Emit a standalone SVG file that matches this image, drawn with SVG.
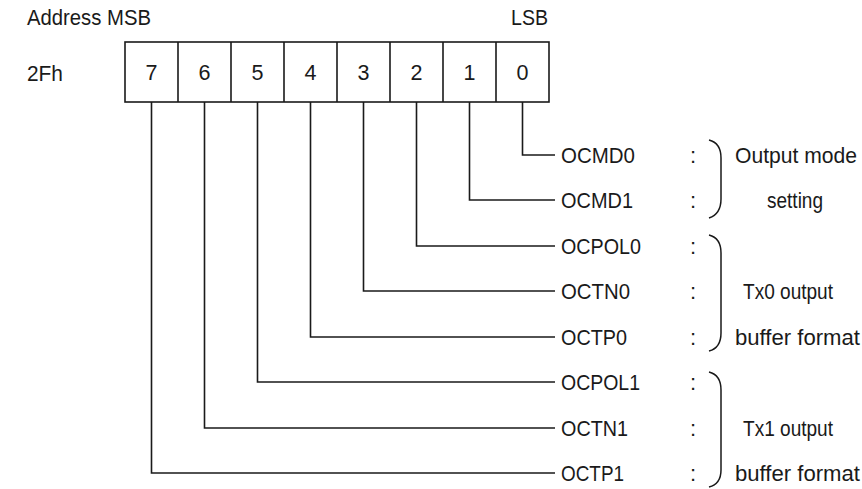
<svg xmlns="http://www.w3.org/2000/svg" width="862" height="489" viewBox="0 0 862 489">
<style>
text{font-family:"Liberation Sans",Arial,sans-serif;font-size:22px;fill:#1a1a1a}
.c{text-anchor:middle}
.d{font-size:23px}
.ln{fill:none;stroke:#1a1a1a;stroke-width:1.6}
.br{fill:none;stroke:#1a1a1a;stroke-width:1.5}
</style>
<rect width="862" height="489" fill="#fff"/>
<g id="header">
<text x="27" y="25" textLength="124" lengthAdjust="spacingAndGlyphs">Address MSB</text>
<text x="511" y="25" textLength="37" lengthAdjust="spacingAndGlyphs">LSB</text>
<text x="27" y="81" textLength="36" lengthAdjust="spacingAndGlyphs">2Fh</text>
</g>
<g id="register">
<rect class="ln" x="125" y="42" width="424" height="60"/>
<path class="ln" d="M178,42V102M231,42V102M284,42V102M337,42V102M390,42V102M443,42V102M496,42V102"/>
<g class="c d">
<text x="151.5" y="80" textLength="12" lengthAdjust="spacingAndGlyphs">7</text>
<text x="204.5" y="80" textLength="12" lengthAdjust="spacingAndGlyphs">6</text>
<text x="257.5" y="80" textLength="12" lengthAdjust="spacingAndGlyphs">5</text>
<text x="310.5" y="80" textLength="12" lengthAdjust="spacingAndGlyphs">4</text>
<text x="363.5" y="80" textLength="12" lengthAdjust="spacingAndGlyphs">3</text>
<text x="416.5" y="80" textLength="12" lengthAdjust="spacingAndGlyphs">2</text>
<text x="469.5" y="80" textLength="12" lengthAdjust="spacingAndGlyphs">1</text>
<text x="522.5" y="80" textLength="12" lengthAdjust="spacingAndGlyphs">0</text>
</g>
</g>
<g id="connectors">
<path class="ln" d="M522.5,102V155H555"/>
<path class="ln" d="M469.5,102V200H555"/>
<path class="ln" d="M416.5,102V246H555"/>
<path class="ln" d="M363.5,102V291H555"/>
<path class="ln" d="M310.5,102V337H555"/>
<path class="ln" d="M257.5,102V382H555"/>
<path class="ln" d="M204.5,102V428H555"/>
<path class="ln" d="M151.5,102V473H555"/>
</g>
<g id="bits">
<text x="561" y="163" textLength="74" lengthAdjust="spacingAndGlyphs">OCMD0</text><text x="690" y="163">:</text>
<text x="561" y="208" textLength="72" lengthAdjust="spacingAndGlyphs">OCMD1</text><text x="690" y="208">:</text>
<text x="561" y="254" textLength="80" lengthAdjust="spacingAndGlyphs">OCPOL0</text><text x="690" y="254">:</text>
<text x="561" y="299" textLength="69" lengthAdjust="spacingAndGlyphs">OCTN0</text><text x="690" y="299">:</text>
<text x="561" y="345" textLength="66" lengthAdjust="spacingAndGlyphs">OCTP0</text><text x="690" y="345">:</text>
<text x="561" y="390" textLength="79" lengthAdjust="spacingAndGlyphs">OCPOL1</text><text x="690" y="390">:</text>
<text x="561" y="436" textLength="67" lengthAdjust="spacingAndGlyphs">OCTN1</text><text x="690" y="436">:</text>
<text x="561" y="481" textLength="63" lengthAdjust="spacingAndGlyphs">OCTP1</text><text x="690" y="481">:</text>
</g>
<g id="group-output-mode">
<path class="br" d="M709,140Q721,143 721,158V199Q721,214 709,218"/>
<text x="735" y="163" textLength="122" lengthAdjust="spacingAndGlyphs">Output mode</text>
<text x="767" y="208" textLength="56" lengthAdjust="spacingAndGlyphs">setting</text>
</g>
<g id="group-tx0">
<path class="br" d="M709,235Q721,238 721,253V333Q721,348 709,351"/>
<text x="743" y="299" textLength="90" lengthAdjust="spacingAndGlyphs">Tx0 output</text>
<text x="735" y="345" textLength="125" lengthAdjust="spacingAndGlyphs">buffer format</text>
</g>
<g id="group-tx1">
<path class="br" d="M709,372Q721,375 721,390V470Q721,484 709,487"/>
<text x="743" y="436" textLength="90" lengthAdjust="spacingAndGlyphs">Tx1 output</text>
<text x="735" y="481" textLength="125" lengthAdjust="spacingAndGlyphs">buffer format</text>
</g>
</svg>
